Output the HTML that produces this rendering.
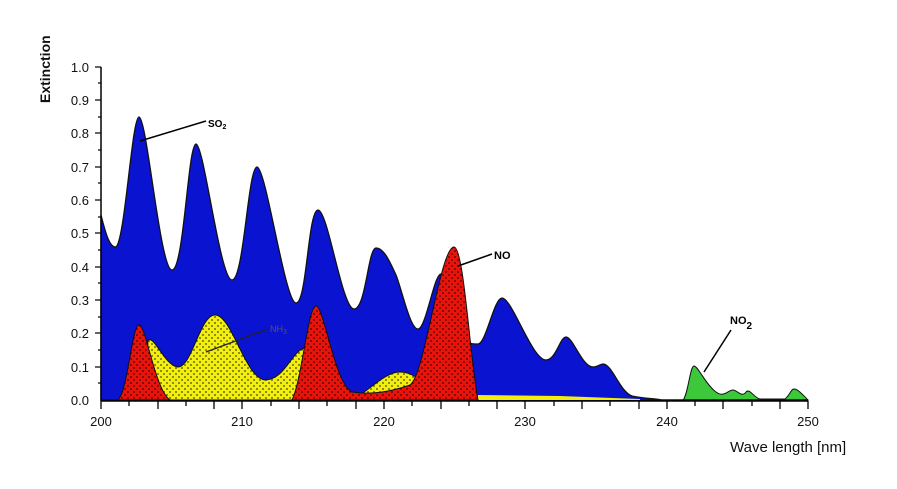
<!DOCTYPE html>
<html><head><meta charset="utf-8"><style>
html,body{margin:0;padding:0;background:#fff;}
svg{display:block;font-family:"Liberation Sans",sans-serif;}
</style></head><body>
<svg width="897" height="489" viewBox="0 0 897 489" xmlns="http://www.w3.org/2000/svg">
<defs>
<pattern id="dots" width="6" height="6" patternUnits="userSpaceOnUse">
<circle cx="2" cy="2" r="0.9" fill="#000" opacity="0.7"/>
<circle cx="5" cy="5" r="0.9" fill="#000" opacity="0.7"/>
</pattern>
</defs>
<!-- SO2 blue -->
<path d="M101,400 L101,215 C106,235 110,248 116,247 C125,240 132,117 139,117 C147,117 160,270 172,270 C184,270 188,144 196,144 C204,144 220,280 232,280 C244,280 248,167 257,167 C266,167 285,303 296,303 C307,303 308,210 318,210 C328,210 342,309 354,309 C366,309 368,248 376,248 C384,248 390,262 396,275 C402,290 410,329 418,329 C426,329 434,274 441,274 C448,274 455,320 462,335 C468,345 472,344 478,344 C486,344 494,298 502,298 C512,298 532,360 546,360 C556,360 560,337 566,337 C573,337 582,367 593,367 C598,367 600,364 603,364 C612,364 620,392 632,396 C645,399 655,398 662,400 Z" fill="#0a14d0" stroke="#111" stroke-width="1.3"/>
<!-- NH3 yellow -->
<path d="M145,400 L148,340 C155,336 165,366 178,367 C192,367 200,315 215,315 C232,315 245,378 265,380 C285,380 292,350 305,348 L312,400 Z" fill="#f2ee10" stroke="#111" stroke-width="1"/>
<path d="M145,400 L148,340 C155,336 165,366 178,367 C192,367 200,315 215,315 C232,315 245,378 265,380 C285,380 292,350 305,348 L312,400 Z" fill="url(#dots)"/>
<path d="M355,398 C370,390 385,372 400,372 C412,372 420,380 425,385 L425,400 L355,400 Z" fill="#f2ee10" stroke="#111" stroke-width="1"/>
<path d="M355,398 C370,390 385,372 400,372 C412,372 420,380 425,385 L425,400 L355,400 Z" fill="url(#dots)"/>
<path d="M478,395 L560,396 L640,399 L640,400 L478,400 Z" fill="#f2ee10"/>
<!-- NO red -->
<path d="M118,400 C128,390 132,325 139,325 C146,325 155,390 170,400 Z" fill="#e8140c" stroke="#111" stroke-width="1"/>
<path d="M118,400 C128,390 132,325 139,325 C146,325 155,390 170,400 Z" fill="url(#dots)"/>
<path d="M292,400 C302,380 308,306 316,306 C324,306 335,385 352,392 C370,395 390,392 410,385 C425,375 440,247 454,247 C464,247 470,360 478,400 Z" fill="#e8140c" stroke="#111" stroke-width="1"/>
<path d="M292,400 C302,380 308,306 316,306 C324,306 335,385 352,392 C370,395 390,392 410,385 C425,375 440,247 454,247 C464,247 470,360 478,400 Z" fill="url(#dots)"/>
<!-- NO2 green -->
<path d="M683,400 C688,395 690,366 694,366 C698,366 706,385 716,392 C724,398 728,390 733,390 C737,390 742,398 746,392 C750,388 754,398 760,399 L785,399 C790,395 791,389 794,389 C798,389 803,395 808,400 Z" fill="#3cc83a" stroke="#111" stroke-width="1"/>
<line x1="662" y1="400" x2="808" y2="400" stroke="#111" stroke-width="1.5"/>
<!-- axes -->
<line x1="101" y1="67" x2="101" y2="401" stroke="#000" stroke-width="1.5"/>
<line x1="101" y1="401" x2="808" y2="401" stroke="#000" stroke-width="1.5"/>
<g stroke="#000" stroke-width="1.2">
<line x1="95" y1="67" x2="101" y2="67"/><line x1="95" y1="100" x2="101" y2="100"/><line x1="95" y1="133" x2="101" y2="133"/><line x1="95" y1="167" x2="101" y2="167"/><line x1="95" y1="200" x2="101" y2="200"/><line x1="95" y1="233" x2="101" y2="233"/><line x1="95" y1="267" x2="101" y2="267"/><line x1="95" y1="300" x2="101" y2="300"/><line x1="95" y1="333" x2="101" y2="333"/><line x1="95" y1="367" x2="101" y2="367"/>
<line x1="98" y1="83" x2="101" y2="83"/><line x1="98" y1="117" x2="101" y2="117"/><line x1="98" y1="150" x2="101" y2="150"/><line x1="98" y1="183" x2="101" y2="183"/><line x1="98" y1="217" x2="101" y2="217"/><line x1="98" y1="250" x2="101" y2="250"/><line x1="98" y1="283" x2="101" y2="283"/><line x1="98" y1="317" x2="101" y2="317"/><line x1="98" y1="350" x2="101" y2="350"/><line x1="98" y1="383" x2="101" y2="383"/>
</g>
<g stroke="#000" stroke-width="1.3" id="xt"></g>
<g stroke="#000" stroke-width="1.3">
<line x1="101" y1="401" x2="101" y2="409"/><line x1="129" y1="401" x2="129" y2="406"/><line x1="158" y1="401" x2="158" y2="409"/><line x1="186" y1="401" x2="186" y2="406"/><line x1="214" y1="401" x2="214" y2="409"/><line x1="242" y1="401" x2="242" y2="409"/><line x1="271" y1="401" x2="271" y2="406"/><line x1="299" y1="401" x2="299" y2="409"/><line x1="327" y1="401" x2="327" y2="406"/><line x1="356" y1="401" x2="356" y2="409"/><line x1="384" y1="401" x2="384" y2="409"/><line x1="412" y1="401" x2="412" y2="406"/><line x1="441" y1="401" x2="441" y2="409"/><line x1="469" y1="401" x2="469" y2="406"/><line x1="497" y1="401" x2="497" y2="409"/><line x1="525" y1="401" x2="525" y2="409"/><line x1="554" y1="401" x2="554" y2="406"/><line x1="582" y1="401" x2="582" y2="409"/><line x1="610" y1="401" x2="610" y2="406"/><line x1="639" y1="401" x2="639" y2="409"/><line x1="667" y1="401" x2="667" y2="409"/><line x1="695" y1="401" x2="695" y2="406"/><line x1="723" y1="401" x2="723" y2="409"/><line x1="752" y1="401" x2="752" y2="406"/><line x1="780" y1="401" x2="780" y2="409"/><line x1="808" y1="401" x2="808" y2="409"/>
</g>
<g font-size="13" text-anchor="end" fill="#111">
<text x="89" y="72">1.0</text><text x="89" y="105">0.9</text><text x="89" y="138">0.8</text><text x="89" y="172">0.7</text><text x="89" y="205">0.6</text><text x="89" y="238">0.5</text><text x="89" y="272">0.4</text><text x="89" y="305">0.3</text><text x="89" y="338">0.2</text><text x="89" y="372">0.1</text><text x="89" y="405">0.0</text>
</g>
<g font-size="13" text-anchor="middle" fill="#111">
<text x="101" y="426">200</text><text x="242" y="426">210</text><text x="384" y="426">220</text><text x="525" y="426">230</text><text x="667" y="426">240</text><text x="808" y="426">250</text>
</g>
<text x="730" y="452" font-size="15" fill="#111">Wave length [nm]</text>
<text transform="translate(50,103) rotate(-90)" font-size="14" font-weight="bold" fill="#111">Extinction</text>
<!-- labels -->
<line x1="140" y1="141" x2="206" y2="121" stroke="#000" stroke-width="1.5"/>
<text x="208" y="127" font-size="10" font-weight="bold">SO<tspan font-size="7" dy="2">2</tspan></text>
<line x1="458" y1="266" x2="492" y2="254" stroke="#000" stroke-width="1.5"/>
<text x="494" y="259" font-size="11" font-weight="bold">NO</text>
<line x1="206" y1="352" x2="268" y2="329" stroke="#222" stroke-width="1.3"/>
<text x="270" y="332" font-size="9" fill="#555">NH<tspan font-size="7" dy="2">3</tspan></text>
<line x1="704" y1="372" x2="731" y2="330" stroke="#000" stroke-width="1.5"/>
<text x="730" y="324" font-size="11" font-weight="bold">NO<tspan font-size="10" dy="5">2</tspan></text>
</svg>
</body></html>
